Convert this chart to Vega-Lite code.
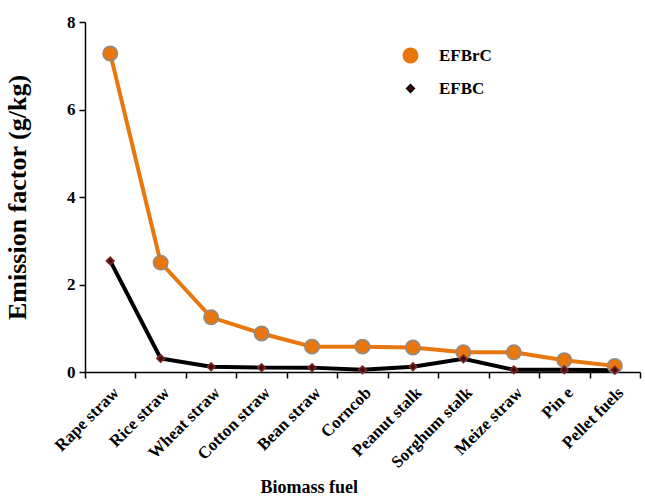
{
  "$schema": "https://vega.github.io/schema/vega-lite/v6.json",
  "width": 555,
  "height": 350,
  "autosize": {"type": "none"},
  "padding": {"left": 85, "top": 22, "right": 5, "bottom": 125},
  "background": "white",
  "config": {
    "view": {"stroke": null},
    "font": "Liberation Serif",
    "axis": {"grid": false, "domainColor": "#000", "tickColor": "#000", "domainWidth": 1.5, "tickWidth": 1.5, "tickSize": 6, "labelColor": "#000", "titleColor": "#000", "labelFont": "Liberation Serif", "titleFont": "Liberation Serif", "labelFontWeight": "bold", "titleFontWeight": "bold"},
    "legend": {"labelFont": "Liberation Serif", "labelFontWeight": "bold", "labelColor": "#000"}
  },
  "data": {
    "values": [
      {"fuel": "Rape straw", "series": "EFBrC", "value": 7.28},
      {"fuel": "Rice straw", "series": "EFBrC", "value": 2.5},
      {"fuel": "Wheat straw", "series": "EFBrC", "value": 1.25},
      {"fuel": "Cotton straw", "series": "EFBrC", "value": 0.88},
      {"fuel": "Bean straw", "series": "EFBrC", "value": 0.58},
      {"fuel": "Corncob", "series": "EFBrC", "value": 0.58},
      {"fuel": "Peanut stalk", "series": "EFBrC", "value": 0.56},
      {"fuel": "Sorghum stalk", "series": "EFBrC", "value": 0.45},
      {"fuel": "Meize straw", "series": "EFBrC", "value": 0.45},
      {"fuel": "Pin e", "series": "EFBrC", "value": 0.27},
      {"fuel": "Pellet fuels", "series": "EFBrC", "value": 0.14},
      {"fuel": "Rape straw", "series": "EFBC", "value": 2.54},
      {"fuel": "Rice straw", "series": "EFBC", "value": 0.31},
      {"fuel": "Wheat straw", "series": "EFBC", "value": 0.12},
      {"fuel": "Cotton straw", "series": "EFBC", "value": 0.1},
      {"fuel": "Bean straw", "series": "EFBC", "value": 0.1},
      {"fuel": "Corncob", "series": "EFBC", "value": 0.05},
      {"fuel": "Peanut stalk", "series": "EFBC", "value": 0.12},
      {"fuel": "Sorghum stalk", "series": "EFBC", "value": 0.3},
      {"fuel": "Meize straw", "series": "EFBC", "value": 0.05},
      {"fuel": "Pin e", "series": "EFBC", "value": 0.05},
      {"fuel": "Pellet fuels", "series": "EFBC", "value": 0.04}
    ]
  },
  "encoding": {
    "x": {
      "field": "fuel", "type": "nominal", "sort": null, "bandPosition": 0.5,
      "scale": {"type": "band", "paddingInner": 0, "paddingOuter": 0},
      "axis": {"title": "Biomass fuel", "labelAngle": -45, "labelFontSize": 17, "tickBand": "extent", "titleFontSize": 18, "titleAnchor": "start", "titleX": 175, "titleY": 106, "labelPadding": 6}
    },
    "y": {
      "field": "value", "type": "quantitative",
      "scale": {"domain": [0, 8]},
      "axis": {"title": "Emission factor (g/kg)", "values": [0, 2, 4, 6, 8], "labelFontSize": 17, "titleFontSize": 26, "titlePadding": 36, "labelPadding": 4}
    }
  },
  "layer": [
    {
      "mark": {"type": "line", "strokeWidth": 4},
      "encoding": {
        "color": {"field": "series", "type": "nominal", "scale": {"domain": ["EFBrC", "EFBC"], "range": ["#E8770E", "#000000"]},
          "legend": {"title": null, "orient": "none", "legendX": 317, "legendY": 25, "labelFontSize": 17, "rowPadding": 13, "labelOffset": 20, "symbolStrokeWidth": 1.5}}
      }
    },
    {
      "mark": {"type": "point", "filled": true, "opacity": 1, "strokeWidth": 1.5},
      "encoding": {
        "fill": {"field": "series", "type": "nominal", "scale": {"domain": ["EFBrC", "EFBC"], "range": ["#E8770E", "#4B0A0A"]}},
        "stroke": {"field": "series", "type": "nominal", "scale": {"domain": ["EFBrC", "EFBC"], "range": ["#8C8C8C", "#7A2A2A"]}},
        "shape": {"field": "series", "type": "nominal", "scale": {"domain": ["EFBrC", "EFBC"], "range": ["circle", "diamond"]}},
        "size": {"field": "series", "type": "nominal", "scale": {"domain": ["EFBrC", "EFBC"], "range": [210, 60]}}
      }
    }
  ]
}
